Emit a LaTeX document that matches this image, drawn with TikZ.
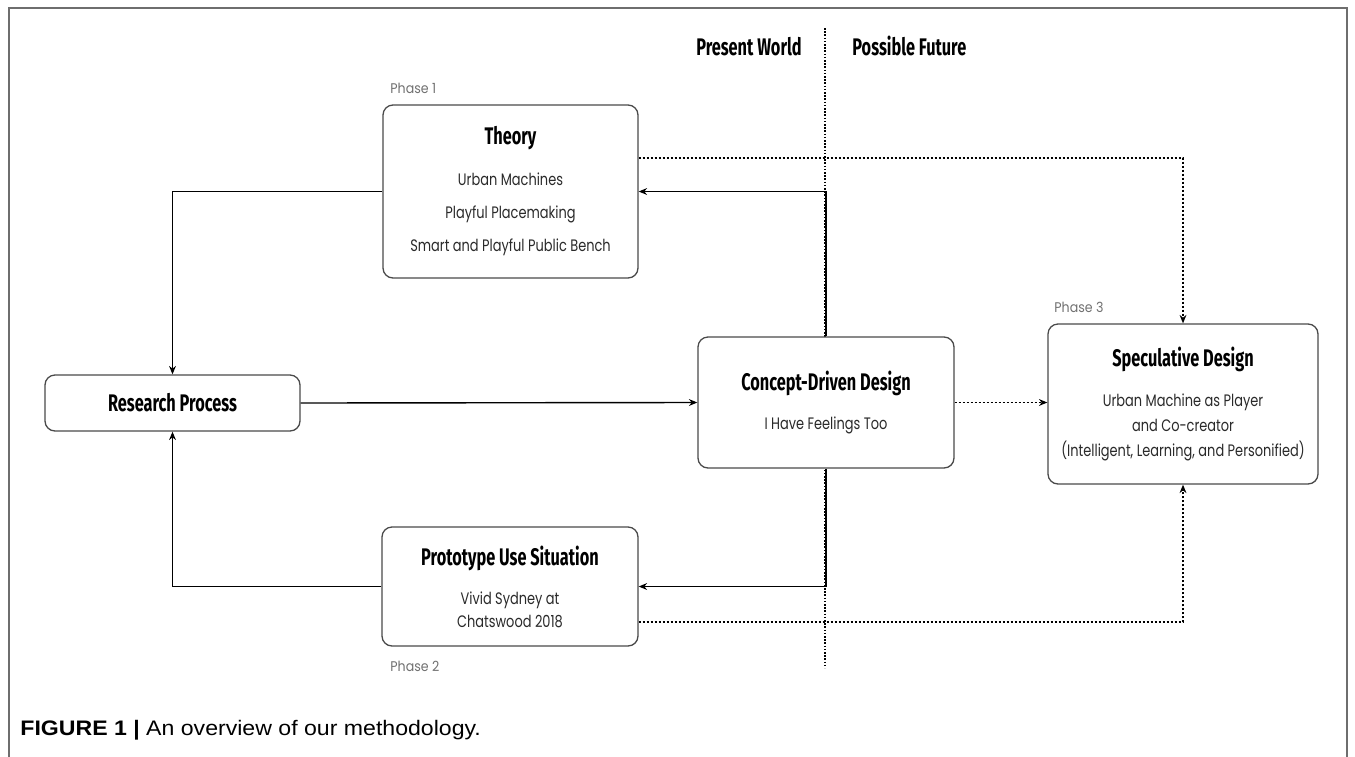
\documentclass[tikz,border=0pt]{standalone}
\usepackage{fontspec}
\setmainfont{Poppins}
\newfontfamily\bodyfont[FakeStretch=0.78]{Poppins}
\newfontfamily\phasefont[FakeStretch=0.9]{Poppins}
\newfontfamily\headfont[FakeStretch=0.68]{Fira Sans}
\newfontfamily\capfont[FakeStretch=1.1]{Liberation Sans}
\usetikzlibrary{arrows.meta}

\definecolor{framegray}{HTML}{6E6E6E}
\definecolor{boxgray}{HTML}{4A4A4A}
\definecolor{phasegray}{HTML}{707070}
\definecolor{bodygray}{HTML}{2A2A2A}

\newcommand\stagehead[1]{{\headfont\bfseries\fontsize{12}{14}\selectfont\color{black}#1}}

\begin{document}
\begin{tikzpicture}[x=0.5pt,y=-0.5pt,
    stage/.style={draw=boxgray,fill=white,line width=0.65pt,rounded corners=5pt,align=center,
      inner sep=0pt,text=bodygray},
    head/.style={inner sep=0pt,font=\headfont\bfseries\fontsize{12}{14}\selectfont},
    phase/.style={inner sep=0pt,anchor=base west,text=phasegray,font=\phasefont\fontsize{7}{8}\selectfont},
    link/.style={line width=0.7pt,-{Stealth[length=4.2pt,width=3.4pt]}},
    maybe/.style={link,dash pattern=on 1pt off 1pt}]

  \useasboundingbox (0,0) rectangle (1355,756);
  \draw[framegray,line width=0.6pt] (9,770) -- (9,8) -- (1347,8) -- (1347,770);

  % present world / possible future
  \draw[line width=0.6pt,dash pattern=on 0.8pt off 0.8pt] (825,28) -- (825,668);
  \node[head,anchor=base east] (present) at (802,55) {Present World};
  \node[head,anchor=base west] (future) at (852,55) {Possible Future};

  % the stages
  \begin{scope}[every node/.style={stage}]
    \node[minimum width=127.5pt,minimum height=86.5pt,
      font=\bodyfont\fontsize{8.3}{16.5}\selectfont] (theory) at (510.5,191.5)
      {\stagehead{Theory}\\[4pt]
       Urban Machines\\ Playful Placemaking\\ Smart and Playful Public Bench};
    \node[minimum width=127.5pt,minimum height=28pt] (research) at (172.5,403)
      {\stagehead{Research Process}};
    \node[minimum width=128pt,minimum height=65.5pt,
      font=\bodyfont\fontsize{8.3}{16.5}\selectfont] (concept) at (826,402.5)
      {\stagehead{Concept-Driven Design}\\[3pt]
       I Have Feelings Too};
    \node[minimum width=135pt,minimum height=80pt,
      font=\bodyfont\fontsize{8.3}{12.5}\selectfont] (spec) at (1183,404)
      {\stagehead{Speculative Design}\\[7.5pt]
       Urban Machine as Player\\ and Co-creator\\ (Intelligent, Learning, and Personified)};
    \node[minimum width=128pt,minimum height=59.5pt,
      font=\bodyfont\fontsize{8.3}{11.5}\selectfont] (proto) at (510,586.5)
      {\stagehead{Prototype Use Situation}\\[8pt]
       Vivid Sydney at\\ Chatswood 2018};
  \end{scope}

  \node[phase] (p1) at (390,93) {Phase 1};
  \node[phase] (p3) at (1054,312) {Phase 3};
  \node[phase] (p2) at (390,671) {Phase 2};

  % connectors
  \coordinate (up) at (1183,158);
  \coordinate (down) at (1183,622);
  \draw[link] (theory.west) -| (research.north);
  \draw[link] (research.east) -- (concept.west);
  \draw[link] (concept.north) |- (theory.east);
  \draw[link] (concept.south) |- (proto.east);
  \draw[link] (proto.west) -| (research.south);
  \draw[maybe] (theory.east |- up) -| (spec.north);
  \draw[maybe] (concept.east) -- (concept.east -| spec.west);
  \draw[maybe] (proto.east |- down) -| (spec.south);

  \node[anchor=base west,inner sep=0pt,font=\capfont\fontsize{10.5}{12}\selectfont] (caption) at (20,735)
    {\textbf{FIGURE 1 |} An overview of our methodology.};
\end{tikzpicture}
\end{document}
